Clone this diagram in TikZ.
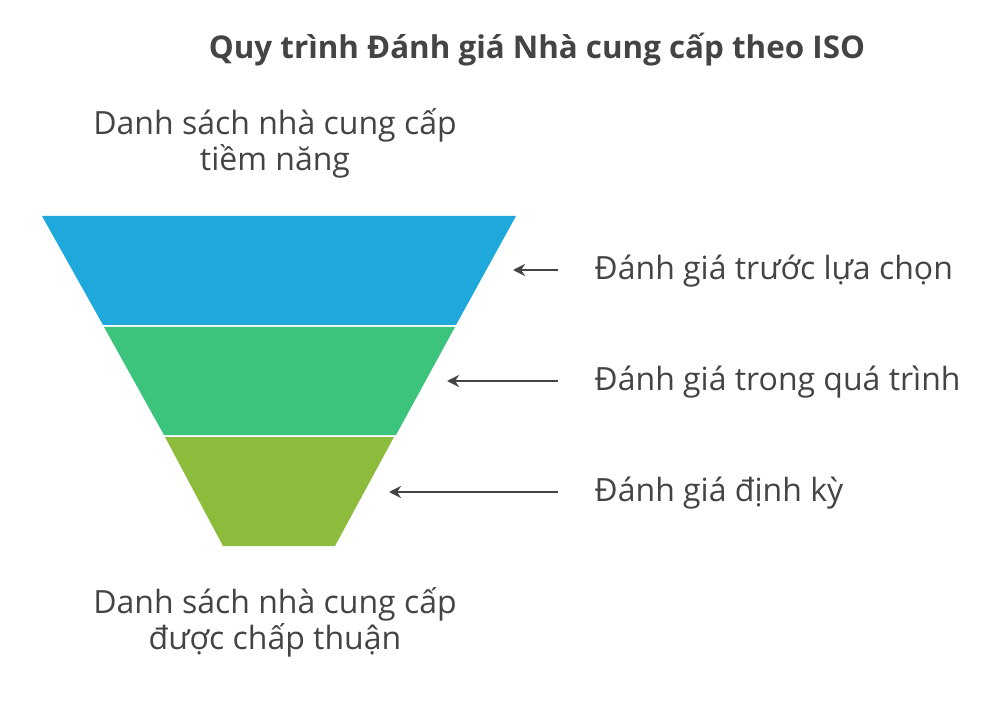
\documentclass[tikz,border=0pt]{standalone}
\usepackage{fontspec}
\setmainfont{Open Sans}
\usetikzlibrary{arrows.meta}
\definecolor{bandblue}{HTML}{1EA8DC}
\definecolor{bandgreen}{HTML}{3CC47C}
\definecolor{bandolive}{HTML}{8DBB3C}
\definecolor{textgrey}{HTML}{444444}
\begin{document}
\begin{tikzpicture}
  [
    x=0.75pt, y=-0.75pt,
    lbl/.style = {font=\fontsize{24}{27}\selectfont, text=textgrey, align=center},
    side/.style = {font=\fontsize{24}{27}\selectfont, text=textgrey, anchor=west},
    pointer/.style = {-{Stealth[length=9pt,width=9pt]}, line width=1.8pt, draw=textgrey}
  ]
  \useasboundingbox (0,0) rectangle (1000,702);

  \node[font=\bfseries\fontsize{23.5}{28}\selectfont, text=textgrey] (title) at (537,50)
    {Quy trình Đánh giá Nhà cung cấp theo ISO};

  % funnel bands
  \fill[bandblue] (42,216) -- (516,216) -- (456,325) -- (103,325) -- cycle;
  \fill[bandgreen] (104,327) -- (455,327) -- (396,435) -- (164,435) -- cycle;
  \fill[bandolive] (165,437) -- (394,437) -- (335,546) -- (223,546) -- cycle;

  \coordinate (b1) at (513,270);
  \coordinate (b2) at (447,381);
  \coordinate (b3) at (389,492);

  \node[lbl] (top) at (275,143) {Danh sách nhà cung cấp\\tiềm năng};
  \node[lbl] (bottom) at (275,622) {Danh sách nhà cung cấp\\được chấp thuận};

  \node[side] (s1) at (590,271) {Đánh giá trước lựa chọn};
  \node[side] (s2) at (590,382) {Đánh giá trong quá trình};
  \node[side] (s3) at (590,493) {Đánh giá định kỳ};

  \draw[pointer] (558,270) -- (b1);
  \draw[pointer] (558,381) -- (b2);
  \draw[pointer] (558,492) -- (b3);
\end{tikzpicture}
\end{document}
